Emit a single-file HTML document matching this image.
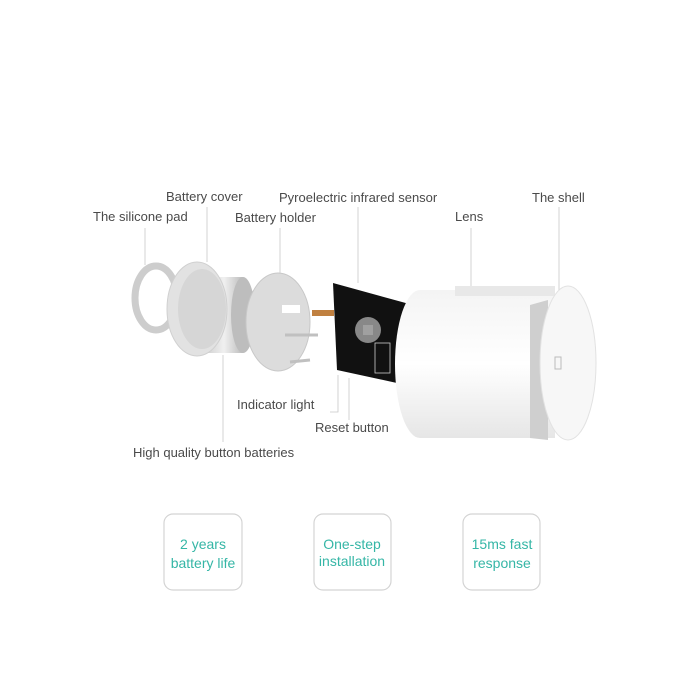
<!DOCTYPE html>
<html><head><meta charset="utf-8"><style>
html,body{margin:0;padding:0;background:#fff;}
svg{display:block;}
text{font-family:"Liberation Sans",sans-serif;}
</style></head><body>
<svg width="700" height="700" viewBox="0 0 700 700" xmlns="http://www.w3.org/2000/svg">
<defs>
<linearGradient id="shell" x1="0" y1="0" x2="0" y2="1">
<stop offset="0" stop-color="#f4f4f4"/><stop offset="0.5" stop-color="#ffffff"/><stop offset="1" stop-color="#e6e6e6"/>
</linearGradient>
<linearGradient id="bat" x1="0" y1="0" x2="1" y2="0">
<stop offset="0" stop-color="#cfcfcf"/><stop offset="0.5" stop-color="#f0f0f0"/><stop offset="1" stop-color="#bcbcbc"/>
</linearGradient>
</defs>
<g stroke="#c8c8c8" stroke-width="0.8" fill="none">
<line x1="145" y1="228" x2="145" y2="265"/>
<line x1="207" y1="207" x2="207" y2="262"/>
<line x1="280" y1="228" x2="280" y2="273"/>
<line x1="358" y1="207" x2="358" y2="283"/>
<line x1="471" y1="228" x2="471" y2="292"/>
<line x1="559" y1="207" x2="559" y2="297"/>
<polyline points="338,375 338,412 330,412"/>
<line x1="349" y1="378" x2="349" y2="420"/>
<line x1="223" y1="355" x2="223" y2="442"/>
</g>
<ellipse cx="156" cy="298" rx="21" ry="32" fill="none" stroke="#cdcdcd" stroke-width="7"/>
<rect x="205" y="277" width="38" height="76" fill="url(#bat)"/>
<ellipse cx="243" cy="315" rx="12" ry="38" fill="#bdbdbd"/>
<ellipse cx="197" cy="309" rx="30" ry="47" fill="#e2e2e2" stroke="#d0d0d0"/>
<ellipse cx="202" cy="309" rx="24" ry="40" fill="#d6d6d6"/>
<ellipse cx="278" cy="322" rx="32" ry="49" fill="#dcdcdc" stroke="#c8c8c8"/>
<rect x="282" y="305" width="18" height="8" fill="#fff"/>
<line x1="285" y1="335" x2="318" y2="335" stroke="#c0c0c0" stroke-width="3"/>
<line x1="290" y1="362" x2="310" y2="360" stroke="#c0c0c0" stroke-width="3"/>
<rect x="312" y="310" width="22" height="6" fill="#c08040"/>
<polygon points="333,283 413,305 397,383 337,370" fill="#111"/>
<circle cx="368" cy="330" r="13" fill="#888"/>
<rect x="363" y="325" width="10" height="10" fill="#a0a0a0"/>
<rect x="375" y="343" width="15" height="30" fill="none" stroke="#ccc" stroke-width="0.8"/>
<path d="M420 290 L555 290 L555 438 L420 438 A25 74 0 0 1 420 290 Z" fill="url(#shell)"/>
<rect x="455" y="286" width="100" height="10" fill="#e8e8e8"/>
<path d="M530 305 L548 300 L548 440 L530 438 Z" fill="#cfcfcf"/>
<ellipse cx="568" cy="363" rx="28" ry="77" fill="#f7f7f7" stroke="#e2e2e2"/>
<rect x="555" y="357" width="6" height="12" fill="none" stroke="#bbb" stroke-width="1"/>
<g font-size="13" fill="#4a4a4a">
<text x="166" y="201">Battery cover</text>
<text x="93" y="221">The silicone pad</text>
<text x="235" y="222">Battery holder</text>
<text x="279" y="202">Pyroelectric infrared sensor</text>
<text x="455" y="221">Lens</text>
<text x="532" y="202">The shell</text>
<text x="237" y="409">Indicator light</text>
<text x="315" y="432">Reset button</text>
<text x="133" y="457">High quality button batteries</text>
</g>
<g fill="none" stroke="#d4d4d4" stroke-width="1.2">
<rect x="164" y="514" width="78" height="76" rx="9"/>
<rect x="314" y="514" width="77" height="76" rx="9"/>
<rect x="463" y="514" width="77" height="76" rx="9"/>
</g>
<g font-size="14" fill="#35b6a6" text-anchor="middle">
<text x="203" y="549">2 years</text><text x="203" y="568">battery life</text>
<text x="352" y="549">One-step</text><text x="352" y="566">installation</text>
<text x="502" y="549">15ms fast</text><text x="502" y="568">response</text>
</g>
</svg>
</body></html>
